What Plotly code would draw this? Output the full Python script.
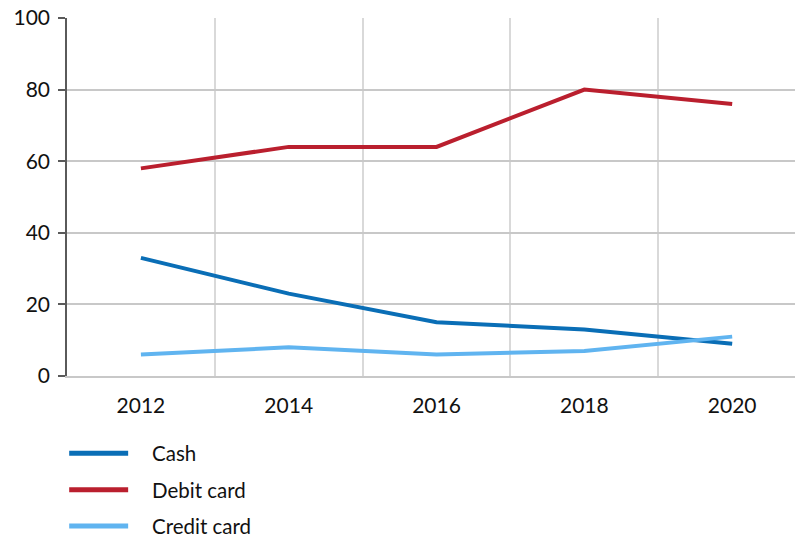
import plotly.graph_objects as go

years = [2012, 2014, 2016, 2018, 2020]
cash = [33, 23, 15, 13, 9]
debit_card = [58, 64, 64, 80, 76]
credit_card = [6, 8, 6, 7, 11]
grid_years = [2013, 2015, 2017, 2019]

series = [
    ("Cash", cash, "#0A6EB6"),
    ("Debit card", debit_card, "#BA1F2E"),
    ("Credit card", credit_card, "#60B4F0"),
]

FONT = "Lato, 'Open Sans', sans-serif"

fig = go.Figure()
for name, vals, color in series:
    fig.add_trace(go.Scatter(
        x=years, y=vals, name=name, mode="lines",
        line=dict(color=color, width=4), showlegend=False,
    ))

# Legend below the plot: a line sample and a label per series
legend_rows = [-0.216, -0.318, -0.419]
for (name, _, color), yy in zip(series, legend_rows):
    fig.add_shape(type="line", xref="paper", yref="paper",
                  x0=0.003, x1=0.084, y0=yy, y1=yy,
                  line=dict(color=color, width=5))
    fig.add_annotation(xref="paper", yref="paper", x=0.114, y=yy,
                       xanchor="left", yanchor="middle", text=name,
                       showarrow=False, font=dict(size=20.5, color="#111111"))

fig.update_layout(
    width=795, height=538,
    margin=dict(l=67, r=0, t=18, b=162, autoexpand=False),
    paper_bgcolor="white", plot_bgcolor="white",
    font=dict(family=FONT, size=21, color="#111111"),
    showlegend=False,
    xaxis=dict(
        range=[2011, 2020.85],
        tickvals=years, ticktext=[str(y) for y in years],
        showgrid=False, zeroline=False,
        showline=True, linecolor="#c8c8c8", linewidth=1.5,
        ticks="", ticklabelstandoff=10,
        minor=dict(tickvals=grid_years, showgrid=True,
                   gridcolor="#d9d9d9", gridwidth=1.5, ticks=""),
    ),
    yaxis=dict(
        range=[0, 100], tickvals=[0, 20, 40, 60, 80, 100],
        showgrid=True, gridcolor="#c8c8c8", gridwidth=1.5,
        zeroline=False,
        showline=True, linecolor="#5a5a5a", linewidth=1.5,
        ticks="outside", ticklen=7, tickcolor="#5a5a5a", tickwidth=1.5,
        ticklabelstandoff=4,
    ),
)

fig.write_html("out.html")
